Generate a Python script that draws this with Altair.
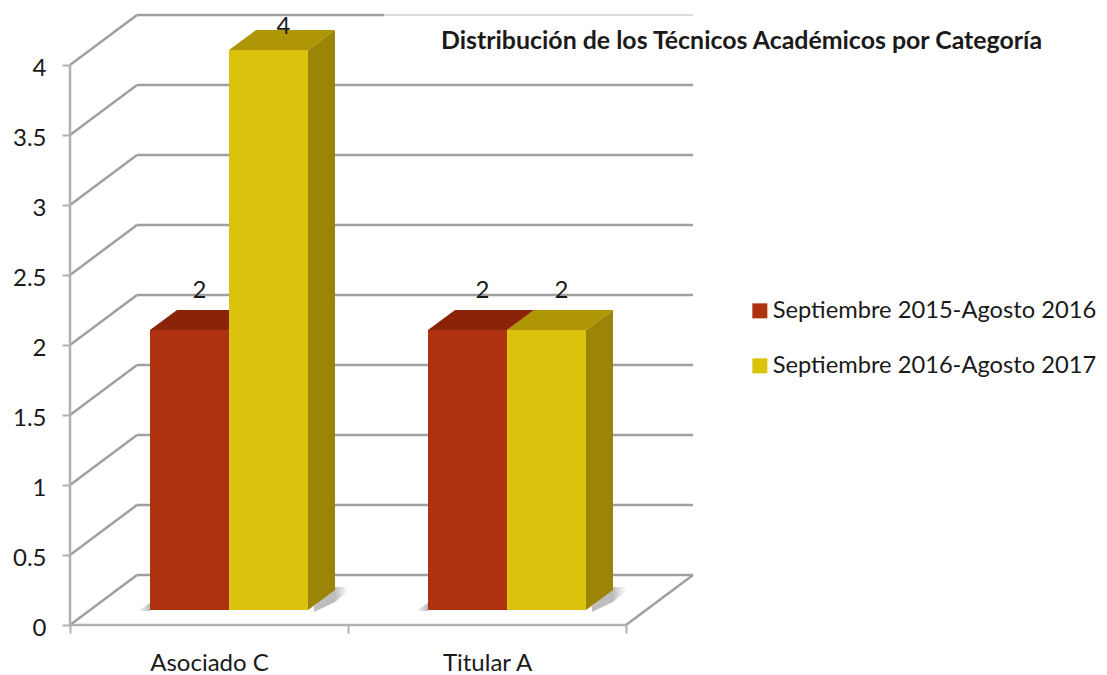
import altair as alt
import pandas as pd

categorias = ["Asociado C", "Titular A"]
series = ["Septiembre 2015-Agosto 2016", "Septiembre 2016-Agosto 2017"]
valores = {series[0]: [2, 2], series[1]: [4, 2]}
ticks_y = [0, 0.5, 1, 1.5, 2, 2.5, 3, 3.5, 4]
titulo = "Distribución de los Técnicos Académicos por Categoría"

FRONT = dict(zip(series, ["#AE3110", "#DBC30D"]))
TOP = dict(zip(series, ["#8A2308", "#AE9604"]))
SIDE = dict(zip(series, ["#7A1F07", "#9C8406"]))
GRID = "#A0A0A0"
AXIS = "#B0B0B0"
FONT = "Lato"
INK = "#1a1a1a"

# Layout in scale units: 278 px per category, 140 px per value unit
PX_X, PX_Y = 278.0, 140.0
W, H = 1029, 617
WALL_X, WALL_Y = 67 / PX_X, 50 / PX_Y      # depth of the whole floor
BAR_X, BAR_Y = 20 / PX_X, 15 / PX_Y        # front of the bars, from the axis plane
BAR_DX, BAR_DY = 27 / PX_X, 20 / PX_Y      # depth of a bar
GAP, BAR_W = 80 / PX_X, 79 / PX_X
LABEL_DX = [10, 15, 15, 15]
LABEL_DY = [-39, -23, -39, -39]

xs = alt.Scale(domain=[0, W / PX_X], nice=False, zero=False)
ys = alt.Scale(domain=[0, H / PX_Y], nice=False, zero=False)

axis_x = alt.Axis(
    values=[0, 0.5, 1, 1.5, 2], domain=False, grid=False, tickColor=AXIS, tickWidth=2, tickSize=8,
    tickOpacity={"condition": {"test": "datum.value == 0.5 || datum.value == 1.5", "value": 0}, "value": 1},
    labelExpr=f"datum.value == 0.5 ? '{categorias[0]}' : datum.value == 1.5 ? '{categorias[1]}' : ''",
    labelFont=FONT, labelFontSize=24, labelColor=INK, labelPadding=18, labelOverlap=False, labelFlush=False,
    title=None,
)
axis_y = alt.Axis(
    values=ticks_y, domain=False, grid=False, tickColor=AXIS, tickWidth=2, tickSize=8,
    format="~g", labelFont=FONT, labelFontSize=24, labelColor=INK, labelPadding=16, labelOverlap=False,
    labelOffset=3, title=None,
)
X = alt.X("x:Q", scale=xs, axis=axis_x)
Y = alt.Y("y:Q", scale=ys, axis=axis_y)

walls, diag = [], []
for v in ticks_y:
    walls += [dict(k=v, x=WALL_X, y=v + WALL_Y), dict(k=v, x=2 + WALL_X, y=v + WALL_Y)]
    diag += [dict(k=v, x=0, y=v), dict(k=v, x=WALL_X, y=v + WALL_Y)]
diag += [dict(k="f", x=2, y=0), dict(k="f", x=2 + WALL_X, y=WALL_Y)]
frame = [dict(k="b", x=0, y=0), dict(k="b", x=2, y=0), dict(k="l", x=0, y=0), dict(k="l", x=0, y=4)]


def lines(rows, color, width):
    return alt.Chart(pd.DataFrame(rows)).mark_line(color=color, strokeWidth=width, clip=False).encode(
        x=X, y=Y, detail="k:N",
    )


walls_main = [r for r in walls if r["k"] != 4]
top_thin = [r for r in walls if r["k"] == 4]
top_thick = [dict(k=4, x=WALL_X, y=4 + WALL_Y), dict(k=4, x=(384 - 70) / PX_X, y=4 + WALL_Y)]

fronts, tops, sides, shadow_r, shadow_l, labels = [], [], [], [], [], []
n = 0
for ci, cat in enumerate(categorias):
    for si, s in enumerate(series):
        v = valores[s][ci]
        x0 = ci + GAP + si * BAR_W
        x1 = x0 + BAR_W
        base = BAR_Y
        fronts.append(dict(serie=s, x=x0, x2=x1, y=base, y2=v + base))
        tid = f"{ci}-{si}"
        t = v + base
        tops += [dict(serie=s, id=tid, y=t, x=x0, x2=x1),
                 dict(serie=s, id=tid, y=t + BAR_DY, x=x0 + BAR_DX, x2=x1 + BAR_DX)]
        sides += [dict(serie=s, id=tid, x=x1, y=base, y2=t),
                  dict(serie=s, id=tid, x=x1 + BAR_DX, y=base + BAR_DY, y2=t + BAR_DY)]
        labels.append(dict(x=(x0 + x1) / 2, y=t, v=v, dx=LABEL_DX[n], dy=LABEL_DY[n]))
        n += 1
    # soft floor shadow beside the group
    xr = ci + GAP + 2 * BAR_W
    shadow_r += [dict(id=f"{ci}r", x=xr + 6 / PX_X, y=BAR_Y - 2 / PX_Y, y2=BAR_Y + 4 / PX_Y),
                 dict(id=f"{ci}r", x=xr + BAR_DX, y=BAR_Y + 8 / PX_Y, y2=BAR_Y + 23 / PX_Y),
                 dict(id=f"{ci}r", x=xr + 40 / PX_X, y=BAR_Y + 19 / PX_Y, y2=BAR_Y + 23 / PX_Y)]
    shadow_l += [dict(id=f"{ci}l", x=ci + GAP - 12 / PX_X, y=BAR_Y - 1 / PX_Y, y2=BAR_Y - 1 / PX_Y),
                 dict(id=f"{ci}l", x=ci + GAP, y=BAR_Y - 1 / PX_Y, y2=BAR_Y + 7 / PX_Y)]

grad_r = alt.Gradient(gradient="linear", x1=0, x2=1, y1=0, y2=0,
                      stops=[alt.GradientStop(offset=0, color="#C0C0C0"),
                             alt.GradientStop(offset=0.6, color="#BCBCBC"),
                             alt.GradientStop(offset=1, color="#FFFFFF")])
grad_l = alt.Gradient(gradient="linear", x1=0, x2=1, y1=0, y2=0,
                      stops=[alt.GradientStop(offset=0, color="#FFFFFF"),
                             alt.GradientStop(offset=1, color="#B8B8B8")])


def shadow(rows, grad):
    return alt.Chart(pd.DataFrame(rows)).mark_area(color=grad, orient="vertical").encode(
        x=X, y=Y, y2="y2:Q", detail="id:N",
    )


layers_side = []
layers_top = []
dfs, dft = pd.DataFrame(sides), pd.DataFrame(tops)
for s in series:
    layers_side.append(
        alt.Chart(dfs[dfs.serie == s]).mark_area(color=SIDE[s], orient="vertical").encode(
            x=X, y=Y, y2="y2:Q", detail="id:N",
        )
    )
    layers_top.append(
        alt.Chart(dft[dft.serie == s]).mark_area(color=TOP[s], orient="horizontal").encode(
            y=Y, x=X, x2="x2:Q", detail="id:N",
        )
    )

front = alt.Chart(pd.DataFrame(fronts)).mark_rect().encode(
    x=X,
    x2="x2:Q",
    y=Y,
    y2="y2:Q",
    color=alt.Color(
        "serie:N",
        scale=alt.Scale(domain=series, range=[FRONT[s] for s in series]),
        legend=alt.Legend(
            title=None, orient="none", legendX=678, legendY=291,
            symbolType="square", symbolSize=225, symbolStrokeWidth=0,
            labelFont=FONT, labelFontSize=23.7, labelColor=INK, labelLimit=400,
            labelOffset=1, rowPadding=30, padding=0,
        ),
    ),
)

text_layers = [
    alt.Chart(pd.DataFrame([r])).mark_text(
        font=FONT, fontSize=24, color=INK, dx=r["dx"], dy=r["dy"], baseline="middle", align="center", clip=False
    ).encode(x=X, y=Y, text="v:Q")
    for r in labels
]

chart = alt.layer(
    lines(walls_main, GRID, 2.5),
    lines(top_thin, "#B8B8B8", 1),
    lines(top_thick, GRID, 2.5),
    lines(diag, GRID, 2.5),
    lines(frame, AXIS, 2.5),
    shadow(shadow_r, grad_r),
    shadow(shadow_l, grad_l),
    *layers_side,
    *layers_top,
    front,
    *text_layers,
).properties(
    width=W,
    height=H,
    padding={"left": 62, "top": 0, "right": 0, "bottom": 50},
    autosize=alt.AutoSizeParams(type="none"),
    title=alt.TitleParams(
        titulo, anchor="start", frame="group", dx=371, dy=46, offset=0,
        font=FONT, fontSize=24.9, fontWeight="bold", color=INK,
    ),
).configure_view(stroke=None)

chart.save("out.html", embed_options={"renderer": "svg", "actions": False})
